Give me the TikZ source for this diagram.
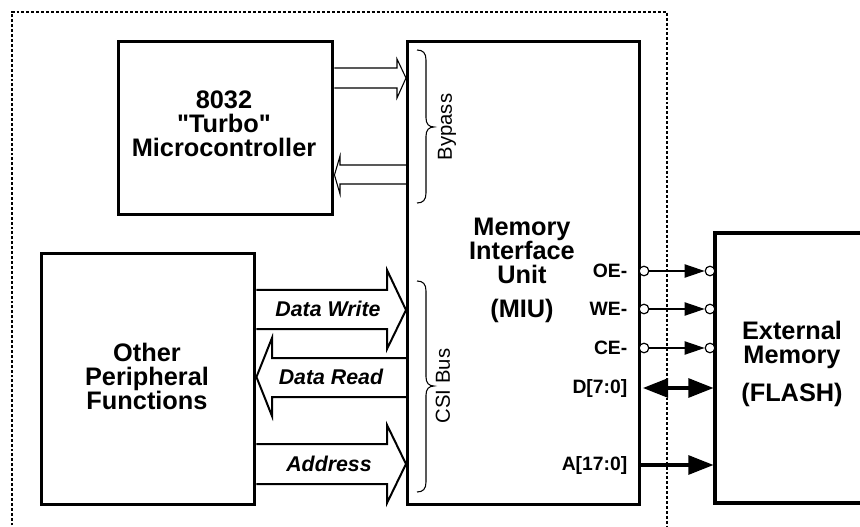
\documentclass[tikz,border=0pt]{standalone}
\usepackage{fontspec}
\setmainfont{Liberation Sans}[Ligatures=TeXOff]
\usetikzlibrary{arrows.meta}
\begin{document}
\begin{tikzpicture}[x=0.75pt,y=-0.75pt,
  blk/.style={line width=2.6pt},
  bus/.style={line width=1.5pt, line join=miter},
  thin bus/.style={line width=0.8pt, line join=miter},
  lbl/.style={font=\fontsize{14.5}{16}\selectfont\bfseries},
  buslbl/.style={font=\fontsize{16}{18}\selectfont\bfseries\itshape},
  big/.style={font=\fontsize{19}{18}\selectfont\bfseries, align=center},
  brc/.style={font=\fontsize{15.2}{17}\selectfont, rotate=90},
  sig/.style={line width=0.8pt, -{Triangle[length=15pt,width=10pt]}},
  bubble/.style={circle, draw, fill=white, line width=0.9pt, inner sep=0pt, minimum size=7.2pt}
]
\useasboundingbox (0,0) rectangle (860,527);
\begin{scope}
\clip (0,0) rectangle (860,527);
% dashed outline
\draw[line width=0.8pt, dash pattern=on 2.2pt off 1.5pt] (12,560) -- (12,12) -- (667,12) -- (667,560);
% boxes
\node[draw, blk, minimum width=214*0.75pt, minimum height=173*0.75pt, anchor=north west, inner sep=0pt] (mcu) at (117,40) {};
\node[draw, blk, minimum width=213*0.75pt, minimum height=251*0.75pt, anchor=north west, inner sep=0pt] (opf) at (40,252) {};
\node[draw, blk, minimum width=232*0.75pt, minimum height=463*0.75pt, anchor=north west, inner sep=0pt] (miu) at (406,40) {};
\draw[blk] (870,233) -- (715,233) -- (715,503) -- (870,503);
\coordinate (ext) at (715,233);
\end{scope}
% box texts
\node[big] at (224,124) {8032\\"Turbo"\\Microcontroller};
\node[big] at (147,376) {Other\\Peripheral\\Functions};
\node[big] at (522,251) {Memory\\Interface\\Unit};
\node[big] at (522,311) {(MIU)};
\node[big] at (792,345) {External\\Memory};
\node[big] at (792,395) {(FLASH)};
% bypass arrows
\draw[thin bus] (mcu.east |- 0,68) -- (397,68) -- (397,59) -- (miu.west |- 0,78) -- (397,98) -- (397,88) -- (mcu.east |- 0,88);
\draw[thin bus] (miu.west |- 0,165) -- (340,165) -- (340,156) -- (mcu.east |- 0,175) -- (340,194) -- (340,184) -- (miu.west |- 0,184);
% CSI bus arrows
\draw[bus] (opf.east |- 0,290) -- (387,290) -- (387,270) -- (miu.west |- 0,310) -- (387,349) -- (387,329) -- (opf.east |- 0,329);
\draw[bus] (miu.west |- 0,358) -- (272,358) -- (272,338) -- (opf.east |- 0,377) -- (272,416) -- (272,397) -- (miu.west |- 0,397);
\draw[bus] (opf.east |- 0,444) -- (387,444) -- (387,425) -- (miu.west |- 0,464) -- (387,503) -- (387,484) -- (opf.east |- 0,484);
\node[buslbl] at (328,309) {Data Write};
\node[buslbl] at (331,377) {Data Read};
\node[buslbl] at (329,464) {Address};
% braces
\draw[line width=0.8pt] (417,50) .. controls (423,50) and (426,53) .. (426,60) -- (426,118) .. controls (426,124) and (429,127) .. (434,127) .. controls (429,127) and (426,130) .. (426,136) -- (426,193) .. controls (426,200) and (423,203) .. (417,203);
\node[brc] at (447,127) {Bypass};
\draw[line width=0.8pt] (417,281) .. controls (423,281) and (426,284) .. (426,291) -- (426,377) .. controls (426,383) and (429,386) .. (434,386) .. controls (429,386) and (426,389) .. (426,395) -- (426,482) .. controls (426,489) and (423,492) .. (417,492);
\node[brc] at (443,386) {CSI Bus};
% control signals
\foreach \n/\y in {OE/271, WE/309, CE/348}{
  \node[bubble] (\n a) at (644,\y) {};
  \node[bubble] (\n b) at (710,\y) {};
  \draw[sig] (\n a.east) -- (\n b.west);
  \node[lbl, anchor=east] at (632,\y) {\n-};
}
\node[lbl, anchor=east] at (632,388) {D[7:0]};
\node[lbl, anchor=east] at (632,465) {A[17:0]};
\coordinate (d1) at (miu.east |- 0,388);
\coordinate (d2) at (ext |- 0,388);
\coordinate (a1) at (miu.east |- 0,465);
\coordinate (a2) at (ext |- 0,465);
\draw[line width=3pt, {Triangle[length=19pt,width=14pt]}-{Triangle[length=19pt,width=14pt]}, shorten <=1pt, shorten >=1pt] (d1) -- (d2);
\draw[line width=3pt, -{Triangle[length=19pt,width=14pt]}, shorten >=1pt] (a1) -- (a2);
\end{tikzpicture}
\end{document}
